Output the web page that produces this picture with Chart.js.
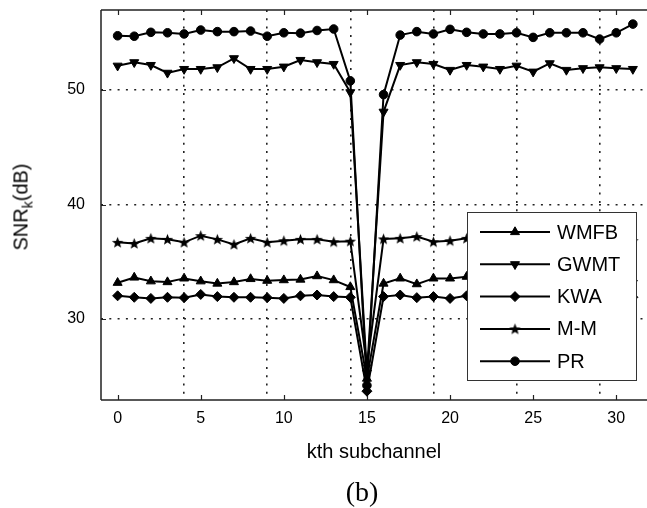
<!DOCTYPE html>
<html><head><meta charset="utf-8">
<script src="https://cdn.jsdelivr.net/npm/chart.js@4.4.0/dist/chart.umd.min.js"></script>
<style>
html,body{margin:0;padding:0;background:#fff;}
#wrap{position:relative;width:647px;height:508px;}
#ytitle{position:absolute;left:21px;top:207px;transform:translate(-50%,-50%) rotate(-90deg);font:20px "Liberation Sans",Arial,sans-serif;white-space:nowrap;color:#000;}
#ytitle sub{font-size:14px;vertical-align:-5px;line-height:0;}
#cap{position:absolute;left:362px;top:492px;transform:translate(-50%,-50%);font:28px "Liberation Serif","Times New Roman",serif;color:#000;white-space:nowrap;}
</style></head><body>
<div id="wrap"><canvas id="c" width="647" height="508"></canvas>
<div id="ytitle">SNR<sub>k</sub>(dB)</div><div id="cap">(b)</div></div>
<script>
const subchannels = [0,1,2,3,4,5,6,7,8,9,10,11,12,13,14,15,16,17,18,19,20,21,22,23,24,25,26,27,28,29,30,31];
const seriesNames = ["WMFB","GWMT","KWA","M-M","PR"];
const wmfb = [33.17,33.63,33.3,33.23,33.55,33.3,33.1,33.23,33.5,33.35,33.4,33.45,33.75,33.4,32.8,24.8,33.1,33.55,33.05,33.55,33.55,33.7,33.5,33.6,33.4,33.5,33.6,33.45,33.5,33.6,33.5,33.55];
const gwmt = [52.12,52.42,52.18,51.5,51.83,51.83,51.98,52.77,51.83,51.83,52.04,52.62,52.42,52.27,49.8,25.3,48.1,52.18,52.42,52.27,51.75,52.18,52.04,51.83,52.12,51.6,52.33,51.75,51.9,51.98,51.9,51.83];
const kwa = [32.03,31.9,31.8,31.9,31.87,32.15,31.96,31.9,31.9,31.87,31.8,32.03,32.1,31.96,31.9,23.7,31.96,32.1,31.87,31.96,31.8,32.03,31.95,32.0,31.9,32.05,31.95,31.9,32.0,31.95,32.0,31.9];
const mm = [36.7,36.6,37.05,36.96,36.7,37.28,36.96,36.52,37.05,36.7,36.84,36.96,36.96,36.75,36.8,25.9,37.0,37.05,37.2,36.75,36.84,37.05,36.9,37.0,36.8,37.1,36.9,36.8,37.0,36.9,37.0,36.85];
const pr = [54.74,54.7,55.04,55.0,54.9,55.24,55.1,55.1,55.15,54.7,55.0,54.97,55.2,55.33,50.8,24.2,49.6,54.8,55.1,54.9,55.3,55.04,54.9,54.9,55.0,54.6,55.0,55.0,55.0,54.45,55.0,55.76];
const xTickValues = [0,5,10,15,20,25,30];
const xGridValues = [4,9,14,19,24,29];
const yTickValues = [30,40,50];
const xTitle = "kth subchannel";

const FONT = "'Liberation Sans', Arial, sans-serif";

// filled five-point star marker
const star = document.createElement('canvas');
star.width = 13; star.height = 13;
(function(){
  const g = star.getContext('2d');
  g.fillStyle = '#000';
  g.beginPath();
  for (let i = 0; i < 10; i++) {
    const r = i % 2 === 0 ? 6 : 2.6;
    const a = -Math.PI/2 + i*Math.PI/5;
    const px = 6.5 + r*Math.cos(a), py = 7 + r*Math.sin(a);
    if (i === 0) g.moveTo(px, py); else g.lineTo(px, py);
  }
  g.closePath(); g.fill();
})();

function mk(label, vals, style, radius, rot) {
  return {
    label: label,
    data: subchannels.map((x,i)=>({x:x, y:vals[i]})),
    borderColor:'#000', borderWidth:2, backgroundColor:'#000',
    pointStyle: style, pointRadius: radius, pointRotation: rot||0,
    pointBackgroundColor:'#000', pointBorderColor:'#000', pointBorderWidth:1,
    tension:0, fill:false
  };
}

const datasets = [
  mk(seriesNames[0], wmfb, 'triangle', 5.2, 0),
  mk(seriesNames[1], gwmt, 'triangle', 5.2, 180),
  mk(seriesNames[2], kwa, 'rectRot', 5, 0),
  mk(seriesNames[3], mm, star, 5, 0),
  mk(seriesNames[4], pr, 'circle', 4.3, 0)
];

const framePlugin = {
  id:'frame',
  beforeDatasetsDraw(chart){
    const ctx = chart.ctx, ca = chart.chartArea;
    const xs = chart.scales.x, ys = chart.scales.y;
    ctx.save();
    ctx.strokeStyle = '#222'; ctx.lineWidth = 1.5;
    ctx.beginPath();
    ctx.moveTo(ca.left, ca.top); ctx.lineTo(ca.right, ca.top);
    ctx.moveTo(ca.left, ca.top); ctx.lineTo(ca.left, ca.bottom);
    ctx.moveTo(ca.left, ca.bottom); ctx.lineTo(ca.right, ca.bottom);
    ctx.stroke();
    ctx.lineWidth = 1.2;
    ctx.beginPath();
    xTickValues.forEach(v=>{
      const px = Math.round(xs.getPixelForValue(v)) + 0.5;
      ctx.moveTo(px, ca.bottom); ctx.lineTo(px, ca.bottom - 5);
      ctx.moveTo(px, ca.top); ctx.lineTo(px, ca.top + 5);
    });
    yTickValues.forEach(v=>{
      const py = Math.round(ys.getPixelForValue(v)) + 0.5;
      ctx.moveTo(ca.left, py); ctx.lineTo(ca.left + 5, py);
    });
    ctx.stroke();
    ctx.restore();
  }
};

const legendPlugin = {
  id:'boxLegend',
  afterDraw(chart){
    const ctx = chart.ctx, ca = chart.chartArea;
    const W = 169, H = 168;
    const L = ca.right - 11 - W, T = ca.top + 202;
    ctx.save();
    ctx.fillStyle = '#fff';
    ctx.fillRect(L, T, W, H);
    ctx.strokeStyle = '#333'; ctx.lineWidth = 1;
    ctx.strokeRect(L + 0.5, T + 0.5, W, H);
    chart.data.datasets.forEach((ds, i) => {
      const y = T + 20 + i*32.3;
      ctx.strokeStyle = '#000'; ctx.lineWidth = 2;
      ctx.beginPath(); ctx.moveTo(L + 13, y); ctx.lineTo(L + 83, y); ctx.stroke();
      ctx.fillStyle = '#000'; ctx.strokeStyle = '#000'; ctx.lineWidth = 1;
      if (Chart.helpers && Chart.helpers.drawPoint) {
        Chart.helpers.drawPoint(ctx, {pointStyle: ds.pointStyle, rotation: ds.pointRotation, radius: ds.pointRadius, borderWidth: 1}, L + 48, y);
      }
      ctx.fillStyle = '#000';
      ctx.font = "20px " + FONT;
      ctx.textBaseline = 'middle'; ctx.textAlign = 'left';
      ctx.fillText(ds.label, L + 90, y + 1);
    });
    ctx.restore();
  }
};

function noPadH(s){ s.paddingLeft = 0; s.paddingRight = 0; s.paddingTop = 0; s.paddingBottom = 0; }

new Chart(document.getElementById('c'), {
  type:'line',
  data:{ datasets: datasets },
  plugins:[framePlugin, legendPlugin],
  options:{
    responsive:false, animation:false, devicePixelRatio:1,
    layout:{autoPadding:false, padding:{top:10, left:0, right:0, bottom:0}},
    plugins:{ legend:{display:false}, tooltip:{enabled:false} },
    scales:{
      x:{
        type:'linear', position:'bottom', min:-1, max:31.85,
        afterBuildTicks: s => { s.ticks = xTickValues.map(v=>({value:v})); },
        afterFit: s => { s.height = 108; noPadH(s); },
        grid:{display:false, drawTicks:false}, border:{display:false},
        ticks:{color:'#000', font:{family:FONT, size:16}, padding:9, maxRotation:0, autoSkip:false, callback: v => String(v)},
        title:{display:true, text:xTitle, color:'#000', font:{family:FONT, size:20}, padding:{top:0, bottom:44}}
      },
      xg:{
        type:'linear', position:'bottom', min:-1, max:31.85,
        afterBuildTicks: s => { s.ticks = xGridValues.map(v=>({value:v})); },
        afterFit: s => { s.height = 0; noPadH(s); },
        ticks:{display:false},
        grid:{color:'#222', lineWidth:1.6, drawTicks:false},
        border:{display:false, dash:[2,6.3]}
      },
      y:{
        type:'linear', position:'left', min:22.93, max:56.99,
        afterBuildTicks: s => { s.ticks = yTickValues.map(v=>({value:v})); },
        afterFit: s => { s.width = 101; noPadH(s); },
        ticks:{color:'#000', font:{family:FONT, size:16}, padding:16, callback: v => String(v)},
        grid:{color:'#222', lineWidth:1.6, drawTicks:false},
        border:{display:false, dash:[2,6.3]}
      }
    }
  }
});
</script>
</body></html>
